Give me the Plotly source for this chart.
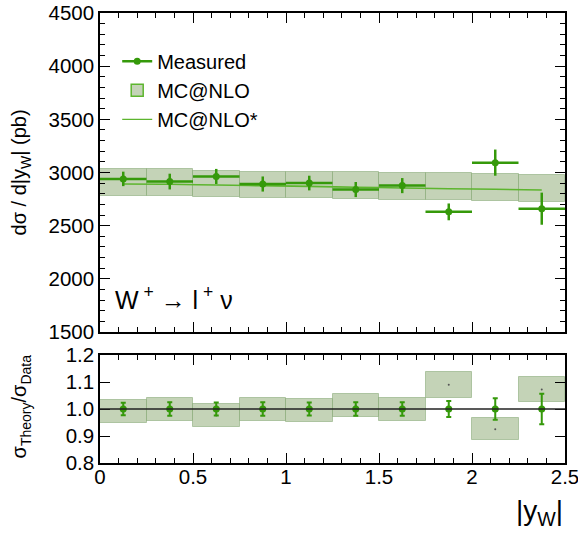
import plotly.graph_objects as go

# ---- data ----
bin_centers = [0.125, 0.375, 0.625, 0.875, 1.125, 1.375, 1.625, 1.875, 2.125, 2.375]
bin_half = [0.125] * 10
measured = [2940, 2915, 2963, 2892, 2901, 2840, 2877, 2630, 3093, 2660]
measured_err = [68, 74, 71, 71, 69, 71, 71, 79, 123, 151]
mcnlo = [2910, 2907, 2892, 2884, 2884, 2877, 2869, 2867, 2860, 2851]
mcnlo_err = [127, 124, 123, 125, 125, 124, 125, 126, 125, 124]
mcnlo_star = [2892, 2890, 2882, 2876, 2870, 2862, 2855, 2847, 2843, 2836]

main_yticks = [1500, 2000, 2500, 3000, 3500, 4000, 4500]
ratio_yticks = [0.8, 0.9, 1.0, 1.1, 1.2]
xticks = [0, 0.5, 1, 1.5, 2, 2.5]

# derived ratio quantities
ratio_center = [t / d for t, d in zip(mcnlo, measured)]
ratio_band_err = [e / d for e, d in zip(mcnlo_err, measured)]
ratio_data_err = [e / d for e, d in zip(measured_err, measured)]
ones = [1.0] * len(measured)

GREEN = "#35990a"
LGREEN = "#5db52e"
BAND = "rgb(196,211,183)"
FONT = "Liberation Sans"

fig = go.Figure()

# MC@NLO band (main)
fig.add_trace(go.Bar(
    x=bin_centers, y=[2 * e for e in mcnlo_err],
    base=[m - e for m, e in zip(mcnlo, mcnlo_err)],
    width=[2 * h for h in bin_half],
    marker=dict(color=BAND, line=dict(color="rgba(110,150,90,0.45)", width=1)),
    name="MC@NLO", showlegend=False, xaxis="x", yaxis="y",
))
# MC@NLO* line
fig.add_trace(go.Scatter(
    x=bin_centers, y=mcnlo_star, mode="lines",
    line=dict(color=LGREEN, width=1.6, shape="spline"),
    name="MC@NLO*", showlegend=False, xaxis="x", yaxis="y",
))
# Measured
fig.add_trace(go.Scatter(
    x=bin_centers, y=measured, mode="markers",
    marker=dict(color=GREEN, size=7),
    error_x=dict(type="data", array=bin_half, color=GREEN, thickness=2.5, width=0),
    error_y=dict(type="data", array=measured_err, color=GREEN, thickness=2.5, width=0),
    name="Measured", showlegend=False, xaxis="x", yaxis="y",
))

# legend entries
fig.add_trace(go.Scatter(x=[None], y=[None], mode="lines+markers",
                         marker=dict(color=GREEN, size=7), line=dict(color=GREEN, width=2.5),
                         name="Measured", xaxis="x", yaxis="y"))
fig.add_trace(go.Bar(x=[None], y=[None], marker=dict(color=BAND, line=dict(color=LGREEN, width=1.5)),
                     name="MC@NLO", xaxis="x", yaxis="y"))
fig.add_trace(go.Scatter(x=[None], y=[None], mode="lines",
                         line=dict(color=LGREEN, width=1.3), name="MC@NLO*", xaxis="x", yaxis="y"))

# ratio band
fig.add_trace(go.Bar(
    x=bin_centers, y=[2 * e for e in ratio_band_err],
    base=[c - e for c, e in zip(ratio_center, ratio_band_err)],
    width=[2 * h for h in bin_half],
    marker=dict(color=BAND, line=dict(color="rgba(110,150,90,0.45)", width=1)),
    showlegend=False, xaxis="x2", yaxis="y2",
))
# ratio centre dots
fig.add_trace(go.Scatter(
    x=bin_centers, y=ratio_center, mode="markers",
    marker=dict(color="#555555", size=2), showlegend=False, xaxis="x2", yaxis="y2",
))
# ratio data points
fig.add_trace(go.Scatter(
    x=bin_centers, y=ones, mode="markers",
    marker=dict(color=GREEN, size=7),
    error_y=dict(type="data", array=ratio_data_err, color=GREEN, thickness=2, width=2.5),
    showlegend=False, xaxis="x2", yaxis="y2",
))

fig.add_hline(y=1.0, line=dict(color="#222222", width=1.6), xref="x2", yref="y2", layer="above")

axis_common = dict(
    showline=True, linecolor="black", linewidth=1.5, mirror="allticks",
    ticks="inside", ticklen=10, tickwidth=1, tickcolor="black",
    showgrid=False, zeroline=False, automargin=False, ticklabeloverflow="allow",
    tickfont=dict(family=FONT, size=20.5, color="black"),
)

fig.update_layout(
    width=578, height=533,
    margin=dict(l=100, r=13, t=13, b=70),
    paper_bgcolor="white", plot_bgcolor="white",
    barmode="overlay", bargap=0,
    font=dict(family=FONT, color="black"),
    xaxis=dict(**axis_common, domain=[0, 1], range=[0, 2.5], tickvals=xticks,
               showticklabels=False, anchor="y", matches="x2",
               minor=dict(ticks="inside", ticklen=5, dtick=0.1, tick0=0, tickcolor="black")),
    yaxis=dict(**axis_common, domain=[0.291, 1.0], range=[1500, 4500], tickvals=main_yticks,
               anchor="x", ticklabelstandoff=0,
               minor=dict(ticks="inside", ticklen=5, dtick=100, tick0=1500, tickcolor="black")),
    xaxis2=dict(**axis_common, domain=[0, 1], range=[0, 2.5], tickvals=xticks,
                ticktext=["0", "0.5", "1", "1.5", "2", "2.5"], anchor="y2",
                ticklabelstandoff=-5,
                minor=dict(ticks="inside", ticklen=5, dtick=0.1, tick0=0, tickcolor="black")),
    yaxis2=dict(**axis_common, domain=[0, 0.24], range=[0.8, 1.2], tickvals=ratio_yticks,
                tickformat=".1f", anchor="x2", ticklabelstandoff=0),
    legend=dict(x=0.037, y=0.936, xanchor="left", yanchor="top",
                bgcolor="rgba(0,0,0,0)", font=dict(family=FONT, size=20),
                tracegroupgap=4, itemwidth=30),
    annotations=[
        dict(text="dσ / d|y<sub>W</sub>| (pb)", xref="paper", yref="paper",
             x=-0.17, y=0.6456, xanchor="center", yanchor="middle", textangle=-90,
             showarrow=False, font=dict(family=FONT, size=20)),
        dict(text="σ<sub>Theory</sub>/σ<sub>Data</sub>", xref="paper", yref="paper",
             x=-0.17, y=0.1256, xanchor="center", yanchor="middle", textangle=-90,
             showarrow=False, font=dict(family=FONT, size=20)),
        dict(text="W<sup> +</sup> → l<sup> +</sup> ν", xref="paper", yref="paper",
             x=0.028, y=0.367, xanchor="left", yanchor="middle", showarrow=False,
             font=dict(family=FONT, size=25)),
        dict(text="|y<sub>W</sub>|", xref="paper", yref="paper",
             x=1.0, y=-0.11, xanchor="right", yanchor="middle", showarrow=False,
             font=dict(family=FONT, size=28)),
    ],
)

fig.write_html("out.html", config={"displayModeBar": False},
               post_script="document.body.style.margin='0px';document.body.style.padding='0px';")
